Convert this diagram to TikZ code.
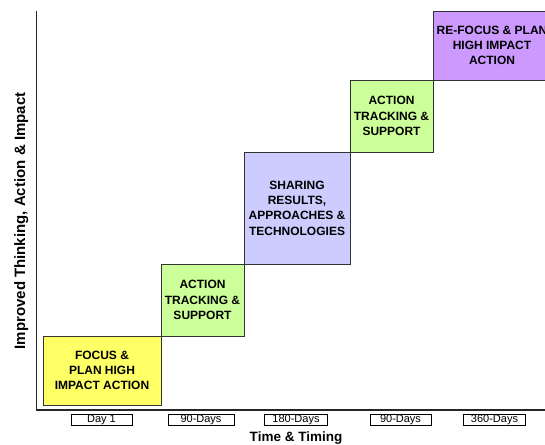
\documentclass[tikz,border=0pt]{standalone}
\usepackage{fontspec}
\setmainfont{Liberation Sans}
\usepackage{tikz}
\usetikzlibrary{positioning}
\definecolor{focusyellow}{HTML}{FFFF66}
\definecolor{trackgreen}{HTML}{CCFF99}
\definecolor{shareblue}{HTML}{CCCCFF}
\definecolor{refocuspurple}{HTML}{CC99FF}

\begin{document}
\begin{tikzpicture}[x=1pt, y=-1pt,
	stage/.style={rectangle, draw=black!80, line width=0.8pt, inner sep=0pt, outer sep=0pt, align=center, font=\bfseries\fontsize{12}{15.3}\selectfont},
	wide/.style={stage, minimum width=118pt, minimum height=69pt},
	narrow/.style={stage, minimum width=83pt, minimum height=72pt},
	tick/.style={rectangle, draw=black, line width=0.6pt, fill=white, inner sep=0pt, minimum height=11.5pt, font=\fontsize{11}{12}\selectfont},
	axis/.style={draw=black!85, line width=1.3pt},
	title/.style={font=\bfseries\fontsize{13.5}{15}\selectfont}
]
\clip (0,0) rectangle (545,444);

% Axes
\coordinate (top) at (36.5,11);
\coordinate (origin) at (36.5,410);
\coordinate (end) at (545,410);
\draw[axis] (top) -- (origin) -- (end);

% Stages, each one standing on the corner of the one before
\node[wide, fill=focusyellow, anchor=south west] (focus) at (43,405) {FOCUS \&\\PLAN HIGH\\IMPACT ACTION};
\node[narrow, fill=trackgreen, anchor=south west] (track1) at (focus.north east) {ACTION\\TRACKING \&\\SUPPORT};
\node[stage, fill=shareblue, minimum width=106pt, minimum height=112pt, anchor=south west] (share) at (track1.north east) {SHARING\\RESULTS,\\APPROACHES \&\\TECHNOLOGIES};
\node[narrow, fill=trackgreen, anchor=south west] (track2) at (share.north east) {ACTION\\TRACKING \&\\SUPPORT};
\node[wide, fill=refocuspurple, anchor=south west] (refocus) at (track2.north east) {RE-FOCUS \& PLAN\\HIGH IMPACT\\ACTION};

% Timing labels
\node[tick, minimum width=61pt] (day1) at (101.5,420) {Day 1};
\node[tick, minimum width=66pt] (days90a) at (201,420) {90-Days};
\node[tick, minimum width=63pt] (days180) at (296,420) {180-Days};
\node[tick, minimum width=61pt] (days90b) at (400.5,420) {90-Days};
\node[tick, minimum width=62pt] (days360) at (494.5,420) {360-Days};

% Axis titles
\node[title, anchor=base] (xtitle) at (296,441.5) {Time \& Timing};
\node[title, font=\bfseries\fontsize{15}{17}\selectfont, rotate=90, anchor=base] (ytitle) at (25,221) {Improved Thinking, Action \& Impact};
\end{tikzpicture}
\end{document}
